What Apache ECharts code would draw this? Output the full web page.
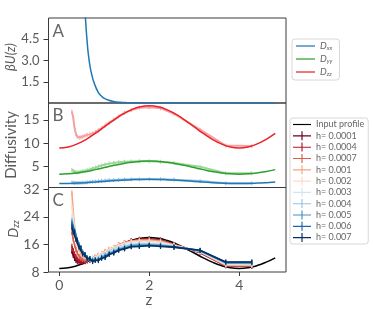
<!DOCTYPE html>
<html><head><meta charset="utf-8">
<script src="https://cdn.jsdelivr.net/npm/echarts@6/dist/echarts.min.js"></script>
<style>html,body{margin:0;padding:0;background:#fff}#c{width:373px;height:309px}</style>
</head><body><div id="c"></div>
<script>
// Panel A: potential
const A_Z = [0.5, 0.55, 0.58, 0.6, 0.62, 0.64, 0.66, 0.68, 0.7, 0.73, 0.76, 0.8, 0.85, 0.9, 0.95, 1.0, 1.1, 1.2, 1.35, 1.5, 1.75, 2.0, 2.5, 3.0, 4.0, 4.8];
const A_U = [14, 7.8, 6.1, 5.1, 4.3, 3.6, 3.1, 2.65, 2.3, 1.9, 1.55, 1.2, 0.85, 0.6, 0.45, 0.33, 0.19, 0.11, 0.05, 0.025, 0.01, 0.005, 0.002, 0.001, 0, 0];
const A_TICKS = [1.5, 3.0, 4.5];

// Panel B: true diffusivity profiles
const TRUE_Z = [0, 0.2, 0.4, 0.6, 0.8, 1.0, 1.2, 1.4, 1.6, 1.8, 2.0, 2.2, 2.4, 2.6, 2.8, 3.0, 3.2, 3.4, 3.6, 3.8, 4.0, 4.2, 4.4, 4.6, 4.8];
const DXX_TRUE = [1.4, 1.42, 1.49, 1.59, 1.71, 1.85, 1.99, 2.11, 2.21, 2.28, 2.3, 2.28, 2.21, 2.11, 1.99, 1.85, 1.71, 1.59, 1.49, 1.42, 1.4, 1.42, 1.49, 1.59, 1.71];
const DYY_TRUE = [3.4, 3.47, 3.67, 3.98, 4.37, 4.8, 5.23, 5.62, 5.93, 6.13, 6.2, 6.13, 5.93, 5.62, 5.23, 4.8, 4.37, 3.98, 3.67, 3.47, 3.4, 3.47, 3.67, 3.98, 4.37];
const DZZ_TRUE = [9.0, 9.22, 9.86, 10.85, 12.11, 13.5, 14.89, 16.15, 17.14, 17.78, 18.0, 17.78, 17.14, 16.15, 14.89, 13.5, 12.11, 10.85, 9.86, 9.22, 9.0, 9.22, 9.86, 10.85, 12.11];
const B_TICKS = [5, 10, 15];

// Estimates (B and C share these z positions)
const EST_Z = [0.28, 0.31, 0.34, 0.37, 0.40, 0.44, 0.48, 0.52, 0.57, 0.62, 0.68, 0.74, 0.80, 0.87, 0.94, 1.02, 1.11, 1.21, 1.32, 1.45, 1.6, 1.78, 2.0, 2.25, 2.55, 3.13, 3.7, 4.28];
const DXX_EST = [1.6, 1.55, 1.5, 1.5, 1.5, 1.52, 1.55, 1.58, 1.62, 1.67, 1.72, 1.78, 1.84, 1.9, 1.97, 2.03, 2.1, 2.16, 2.22, 2.27, 2.3, 2.32, 2.32, 2.3, 2.2, 1.95, 1.45, 1.45];
const DYY_EST = [4.3, 4.1, 3.9, 3.8, 3.75, 3.8, 3.9, 4.0, 4.1, 4.25, 4.4, 4.6, 4.8, 5.05, 5.25, 5.45, 5.65, 5.8, 5.95, 6.05, 6.12, 6.15, 6.15, 6.05, 5.8, 5.0, 3.6, 3.6];
const DZZ_EST = [16.8, 15.5, 13.2, 12.0, 11.4, 11.2, 11.3, 11.4, 11.6, 11.8, 11.9, 12.1, 12.4, 12.8, 13.2, 13.8, 14.4, 15.0, 15.7, 16.5, 17.1, 17.6, 17.7, 17.5, 16.3, 12.9, 9.5, 9.4];

// Panel C
const C_TICKS = [8, 16, 24, 32];
const X_TICKS = [0, 2, 4];
const INPUT_PROFILE = [9.0, 9.22, 9.86, 10.85, 12.11, 13.5, 14.89, 16.15, 17.14, 17.78, 18.0, 17.78, 17.14, 16.15, 14.89, 13.5, 12.11, 10.85, 9.86, 9.22, 9.0, 9.22, 9.86, 10.85, 12.11];
const H_LABELS = ['h= 0.0001', 'h= 0.0004', 'h= 0.0007', 'h= 0.001', 'h= 0.002', 'h= 0.003', 'h= 0.004', 'h= 0.005', 'h= 0.006', 'h= 0.007'];
const H_0001 = [14.0, 12.8, 11.9, 11.3, 11.0, 10.8, 10.8, 10.9, 11.0, 11.2, 11.4, 11.8, 12.2, 12.7, 13.2, 13.8, 14.4, 15.1, 15.8, 16.5, 17.1, 17.5, 17.6, 17.3, 16.0, 13.6, 9.8, 9.7];
const H_0004 = [15.5, 14.2, 13.2, 12.4, 11.8, 11.3, 11.1, 11.0, 11.1, 11.3, 11.5, 11.8, 12.2, 12.7, 13.2, 13.8, 14.4, 15.0, 15.7, 16.4, 17.0, 17.4, 17.5, 17.2, 16.0, 13.7, 9.8, 9.7];
const H_0007 = [19.5, 17.5, 15.8, 14.5, 13.5, 12.6, 12.0, 11.6, 11.4, 11.4, 11.6, 11.9, 12.3, 12.8, 13.3, 13.9, 14.5, 15.1, 15.8, 16.4, 17.0, 17.3, 17.4, 17.1, 15.9, 13.8, 9.9, 9.8];
const H_001 = [31.0, 25.5, 21.0, 18.0, 16.0, 14.5, 13.4, 12.7, 12.1, 11.8, 11.8, 12.0, 12.4, 12.9, 13.4, 14.0, 14.6, 15.2, 15.9, 16.5, 17.0, 17.2, 17.2, 16.9, 15.8, 13.8, 10.0, 9.9];
const H_002 = [27.0, 23.5, 20.5, 18.4, 16.7, 15.3, 14.2, 13.3, 12.6, 12.1, 11.9, 12.0, 12.3, 12.8, 13.3, 13.9, 14.5, 15.1, 15.7, 16.3, 16.7, 16.9, 16.9, 16.6, 15.7, 13.9, 10.2, 10.1];
const H_003 = [24.0, 22.0, 20.2, 18.6, 17.2, 15.8, 14.6, 13.6, 12.8, 12.2, 11.8, 11.7, 11.9, 12.3, 12.8, 13.4, 14.0, 14.6, 15.2, 15.8, 16.2, 16.4, 16.4, 16.2, 15.5, 14.0, 10.4, 10.3];
const H_004 = [23.0, 21.5, 20.0, 18.7, 17.4, 16.0, 14.8, 13.8, 13.0, 12.3, 11.8, 11.6, 11.6, 11.9, 12.4, 13.0, 13.6, 14.2, 14.8, 15.4, 15.9, 16.1, 16.1, 15.9, 15.4, 14.1, 10.6, 10.5];
const H_005 = [22.5, 21.2, 19.8, 18.5, 17.2, 15.9, 14.9, 13.8, 13.0, 12.2, 11.7, 11.4, 11.4, 11.7, 12.1, 12.7, 13.3, 13.9, 14.5, 15.0, 15.5, 15.8, 15.8, 15.7, 15.3, 14.2, 10.7, 10.7];
const H_006 = [22.0, 20.6, 19.8, 18.0, 17.3, 15.4, 15.0, 13.4, 13.1, 11.9, 11.8, 11.1, 11.5, 11.4, 12.1, 12.3, 13.2, 13.6, 14.4, 14.8, 15.4, 15.5, 15.7, 15.6, 15.2, 14.2, 10.8, 10.8];
const H_007 = [21.0, 19.5, 19.6, 17.4, 17.0, 15.2, 14.9, 13.2, 13.0, 11.8, 11.9, 11.0, 11.4, 11.3, 12.0, 12.2, 13.1, 13.5, 14.3, 14.7, 15.3, 15.4, 15.7, 15.4, 15.2, 14.3, 10.9, 10.9];
const H_SERIES = [H_0001, H_0004, H_0007, H_001, H_002, H_003, H_004, H_005, H_006, H_007];
const H_COLORS = ['#67001f', '#b2182b', '#d6604d', '#f4a582', '#fddbc7', '#d1e5f0', '#92c5de', '#4393c3', '#2166ac', '#053061'];

const pairs = (xs, ys) => xs.map((x, i) => [x, ys[i]]);
const TXT = '#5a5a5a', FRAME = '#3a3a3a';
const FONT = 'Lato';
const BAR = 'path://M0,0H2V20H0Z';
const ICON_LINE = 'path://M0,9H40V11.6H0Z';
const ICON_PLUS = 'path://M0,9H40V11.6H0Z M18.7,0H21.3V20H18.7Z';

const grids = [
  {left: 48.5, width: 237.5, top: 18, height: 85},
  {left: 48.5, width: 237.5, top: 103, height: 84.5},
  {left: 48.5, width: 237.5, top: 187.5, height: 84.5}
].map(g => Object.assign(g, {show: true, borderColor: FRAME, borderWidth: 1, backgroundColor: 'transparent'}));

const xAxes = [0, 1, 2].map(i => ({
  type: 'value', gridIndex: i, min: -0.24, max: 5.04,
  axisLine: {show: false, onZero: false}, splitLine: {show: false},
  axisTick: i === 2 ? {show: true, length: 4, lineStyle: {color: FRAME}, customValues: X_TICKS} : {show: false},
  axisLabel: i === 2 ? {show: true, customValues: X_TICKS, color: TXT, fontFamily: FONT, fontSize: 14, margin: 6} : {show: false}
}));

function yAx(i, min, max, ticks, fmt, fs) {
  return {
    type: 'value', gridIndex: i, min: min, max: max,
    axisLine: {show: false, onZero: false}, splitLine: {show: false},
    axisTick: {show: true, length: 5, lineStyle: {color: FRAME}, customValues: ticks},
    axisLabel: {customValues: ticks, color: TXT, fontFamily: FONT, fontSize: fs, margin: 9, formatter: fmt, hideOverlap: false}
  };
}
const yAxes = [
  yAx(0, 0, 6, A_TICKS, v => Number(v).toFixed(1), 13),
  yAx(1, 0.55, 18.6, B_TICKS, v => String(v), 14),
  yAx(2, 8, 32.5, C_TICKS, v => String(v), 14)
];

const series = [];
series.push({name: 'U', type: 'line', xAxisIndex: 0, yAxisIndex: 0, data: pairs(A_Z, A_U), showSymbol: false, smooth: true, lineStyle: {color: '#1f77b4', width: 1.5}, itemStyle: {color: '#1f77b4'}, clip: true});

const estSpec = [[DXX_EST, '#8fbde3'], [DYY_EST, '#9fd59a'], [DZZ_EST, '#f5a0a3']];
estSpec.forEach(([d, c]) => series.push({
  name: 'est', type: 'line', xAxisIndex: 1, yAxisIndex: 1, data: pairs(EST_Z, d),
  symbol: BAR, symbolSize: [1, 4], lineStyle: {color: c, width: 2}, itemStyle: {color: c}, z: 2
}));
const trueSpec = [['D_xx', DXX_TRUE, '#1f77b4'], ['D_yy', DYY_TRUE, '#2ca02c'], ['D_zz', DZZ_TRUE, '#e8232a']];
trueSpec.forEach(([n, d, c]) => series.push({
  name: n, type: 'line', xAxisIndex: 1, yAxisIndex: 1, data: pairs(TRUE_Z, d),
  showSymbol: false, symbol: 'none', smooth: true, lineStyle: {color: c, width: 1.5}, itemStyle: {color: c}, z: 3
}));

series.push({name: 'Input profile', type: 'line', xAxisIndex: 2, yAxisIndex: 2, data: pairs(TRUE_Z, INPUT_PROFILE),
  symbol: 'none', smooth: true, lineStyle: {color: '#000', width: 1.5}, itemStyle: {color: '#000'}, z: 2});
H_SERIES.forEach((d, i) => series.push({
  name: H_LABELS[i], type: 'line', xAxisIndex: 2, yAxisIndex: 2, data: pairs(EST_Z, d),
  symbol: BAR, symbolSize: [1.2, 5], lineStyle: {color: H_COLORS[i], width: 1.6}, itemStyle: {color: H_COLORS[i]}, z: 3 + i * 0.1
}));

const subName = n => '{d|D}{s|' + n.slice(2) + '}';

const option = {
  animation: false,
  backgroundColor: '#fff',
  textStyle: {fontFamily: FONT},
  grid: grids, xAxis: xAxes, yAxis: yAxes, series: series,
  legend: [
    {data: ['D_xx', 'D_yy', 'D_zz'].map(n => ({name: n, icon: ICON_LINE})), orient: 'vertical', left: 292, top: 39,
      itemWidth: 19, itemHeight: 10, itemGap: 3, padding: [2, 7, 3, 4],
      borderColor: '#d8d8d8', borderWidth: 1, borderRadius: 3, backgroundColor: '#fff',
      formatter: subName,
      textStyle: {color: '#666', rich: {d: {fontStyle: 'italic', fontSize: 9.5, color: '#666', fontFamily: FONT}, s: {fontStyle: 'italic', fontSize: 6, color: '#666', fontFamily: FONT, padding: [4, 0, 0, 0]}}}},
    {data: [{name: 'Input profile', icon: ICON_LINE}].concat(H_LABELS.map(n => ({name: n, icon: ICON_PLUS}))), orient: 'vertical', left: 290, top: 118,
      itemWidth: 18, itemHeight: 10, itemGap: 2.3, padding: [2, 4, 2, 3],
      borderColor: '#d8d8d8', borderWidth: 1, borderRadius: 3, backgroundColor: '#fff',
      textStyle: {color: '#666', fontSize: 9, fontFamily: FONT}}
  ],
  graphic: [
    {type: 'text', left: 52.5, top: 23, style: {text: 'A', fill: '#666', font: '17px Lato'}},
    {type: 'text', left: 52.5, top: 107, style: {text: 'B', fill: '#666', font: '17px Lato'}},
    {type: 'text', left: 52.5, top: 192, style: {text: 'C', fill: '#666', font: '17px Lato'}},
    {type: 'text', x: 10.5, y: 57, rotation: Math.PI / 2, style: {text: 'βU(z)', fill: TXT, font: 'italic 13px Lato', align: 'center', verticalAlign: 'middle'}},
    {type: 'text', x: 11, y: 145, rotation: Math.PI / 2, style: {text: 'Diffusivity', fill: TXT, font: '15px Lato', align: 'center', verticalAlign: 'middle'}},
    {type: 'text', x: 13, y: 229, rotation: Math.PI / 2, style: {text: '{d|D}{s|zz}', align: 'center', verticalAlign: 'middle',
      rich: {d: {fontStyle: 'italic', fontSize: 14, fill: TXT, fontFamily: FONT}, s: {fontStyle: 'italic', fontSize: 9, fill: TXT, fontFamily: FONT, padding: [6, 0, 0, 0]}}}},
    {type: 'text', x: 149, y: 300, style: {text: 'z', fill: TXT, font: '15px Lato', align: 'center', verticalAlign: 'middle'}}
  ]
};
const chart = echarts.init(document.getElementById('c'), null, {renderer: 'canvas'});
chart.setOption(option);
</script></body></html>
